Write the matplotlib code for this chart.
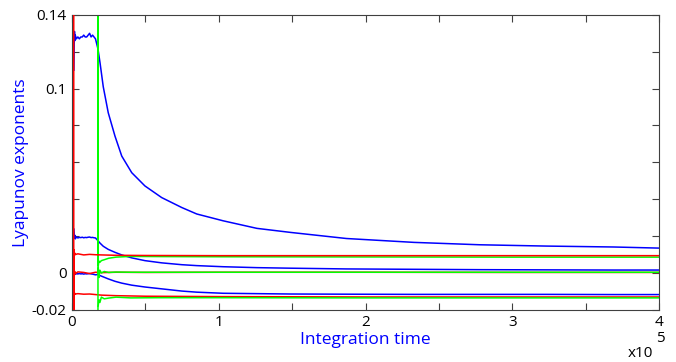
import numpy as np
import matplotlib.pyplot as plt

# time in units of 1e5
t_pre = [0.013, 0.015, 0.017, 0.019, 0.022, 0.03, 0.04, 0.05, 0.06, 0.07, 0.08, 0.09, 0.10,
         0.11, 0.12, 0.13, 0.14, 0.15, 0.16]
t_post = [0.177, 0.191, 0.213, 0.247, 0.293, 0.339, 0.407, 0.497, 0.611, 0.748, 0.85, 1.03,
          1.26, 1.49, 1.87, 2.33, 2.78, 3.23, 3.69, 4.0]

# largest exponent (blue)
blue1_pre = [0.110, 0.124, 0.131, 0.126, 0.129, 0.127, 0.128, 0.127, 0.128, 0.128, 0.129,
             0.128, 0.128, 0.129, 0.130, 0.128, 0.129, 0.128, 0.127]
blue1_post = [0.1215, 0.114, 0.101, 0.0869, 0.0742, 0.0634, 0.0544, 0.0472, 0.0409, 0.0355,
              0.0320, 0.0283, 0.0242, 0.0220, 0.0187, 0.0166, 0.0153, 0.0146, 0.0141, 0.0135]

# second blue
blue2_pre = [0.0238, 0.0215, 0.019, 0.0205, 0.0185, 0.0195, 0.0190, 0.0193, 0.0192, 0.0194, 0.0191,
             0.0193, 0.0192, 0.0194, 0.0195, 0.0192, 0.0193, 0.0191, 0.0190]
blue2_post = [0.0175, 0.0162, 0.0145, 0.0128, 0.0112, 0.0098, 0.0082, 0.0067, 0.0055, 0.0045,
              0.0040, 0.0034, 0.0029, 0.0026, 0.0022, 0.0020, 0.0018, 0.0017, 0.0016, 0.0016]

# third blue
blue3_pre = [0.0010, -0.0005, -0.0008, -0.0003, -0.0006, -0.0004, -0.0005, -0.0003, -0.0005, -0.0004,
             -0.0006, -0.0004, -0.0005, -0.0004, -0.0003, -0.0005, -0.0006, -0.0008, -0.0010]
blue3_post = [-0.0008, -0.0014, -0.0021, -0.0032, -0.0045, -0.0055, -0.0066, -0.0076, -0.0086,
              -0.0098, -0.0104, -0.0110, -0.0112, -0.0114, -0.0115, -0.0116, -0.0116, -0.0116, -0.0117, -0.0117]

# red series
t_red = [0.012, 0.012, 0.014, 0.016, 0.019, 0.022, 0.04, 0.08, 0.12, 0.16, 0.2, 0.3, 0.5, 1.0, 2.0, 3.0, 4.0]
red1 = [0.20, -0.03, 0.0125, 0.0095, 0.0108, 0.0100, 0.0104, 0.0098, 0.0101, 0.0099, 0.0098,
        0.0096, 0.0095, 0.0094, 0.0094, 0.0094, 0.0094]
red2 = [0.0, 0.0, 0.0015, -0.0012, 0.0008, -0.0004, 0.0006, 0.0003, -0.0003, 0.0004, 0.0002,
        0.0004, 0.0003, 0.0004, 0.0004, 0.0003, 0.0003]
red3 = [-0.011, -0.011, -0.0105, -0.0118, -0.0110, -0.0114, -0.0112, -0.0115, -0.0114, -0.0117, -0.0120,
        -0.0123, -0.0126, -0.0128, -0.0130, -0.0130, -0.0130]

# green series (start after transient)
t_green = [0.177, 0.177, 0.179, 0.183, 0.19, 0.2, 0.22, 0.25, 0.3, 0.4, 0.6, 1.0, 2.0, 3.0, 4.0]
green1 = [-0.03, 0.20, 0.0040, 0.0065, 0.0058, 0.0067, 0.0072, 0.0080, 0.0086, 0.0090, 0.0089,
          0.0088, 0.0087, 0.0086, 0.0086]
green2 = [0.0, 0.0, 0.0030, -0.0025, 0.0015, 0.0000, 0.0008, 0.0003, 0.0005, 0.0004, 0.0004,
          0.0004, 0.0004, 0.0004, 0.0004]
green3 = [-0.018, -0.018, -0.0175, -0.0145, -0.0160, -0.0131, -0.0140, -0.0136, -0.0131, -0.0135,
          -0.0134, -0.0134, -0.0135, -0.0135, -0.0135]

yticks = [-0.02, 0, 0.02, 0.04, 0.06, 0.08, 0.1, 0.12, 0.14]
ytick_labels = ['-0.02', '0', '', '', '', '', '0.1', '', '0.14']
xticks = [0, 0.5, 1, 1.5, 2, 2.5, 3, 3.5, 4]
xtick_labels = ['0', '', '1', '', '2', '', '3', '', '4']

plt.rcParams['font.family'] = ['Open Sans', 'DejaVu Sans']

fig = plt.figure(figsize=(6.76, 3.62), dpi=100)
ax = fig.add_axes([0.1065, 0.144, 0.8685, 0.815])

lw = 1.1
ax.plot(t_pre + t_post, blue1_pre + blue1_post, color='#0000ff', lw=lw)
ax.plot(t_pre + t_post, blue2_pre + blue2_post, color='#0000ff', lw=lw)
ax.plot(t_pre + t_post, blue3_pre + blue3_post, color='#0000ff', lw=lw)
ax.plot(t_red, red1, color='#ff0000', lw=lw, zorder=3)
ax.plot(t_red, red2, color='#ff0000', lw=lw)
ax.plot(t_red, red3, color='#ff0000', lw=lw)
ax.plot(t_green, green1, color='#00ff00', lw=lw)
ax.plot(t_green, green2, color='#00ff00', lw=lw)
ax.plot(t_green, green3, color='#00ff00', lw=lw)

ax.set_xlim(0, 4)
ax.set_ylim(-0.02, 0.14)
ax.set_xticks(xticks)
ax.set_xticklabels(xtick_labels)
ax.set_yticks(yticks)
ax.set_yticklabels(ytick_labels)
ax.tick_params(direction='in', top=True, right=True, length=5, width=0.8,
               color='#404040', labelsize=11, pad=4)
for s in ax.spines.values():
    s.set_color('#404040')
    s.set_linewidth(0.8)

ax.set_xlabel('Integration time', color='#0000ff', fontsize=12.5, labelpad=1)
ax.set_ylabel('Lyapunov exponents', color='#0000ff', fontsize=12.5, labelpad=2)

fig.text(0.928, 0.015, 'x10', fontsize=11)
fig.text(0.970, 0.055, '5', fontsize=11)

fig.savefig('out.png', dpi=100)
